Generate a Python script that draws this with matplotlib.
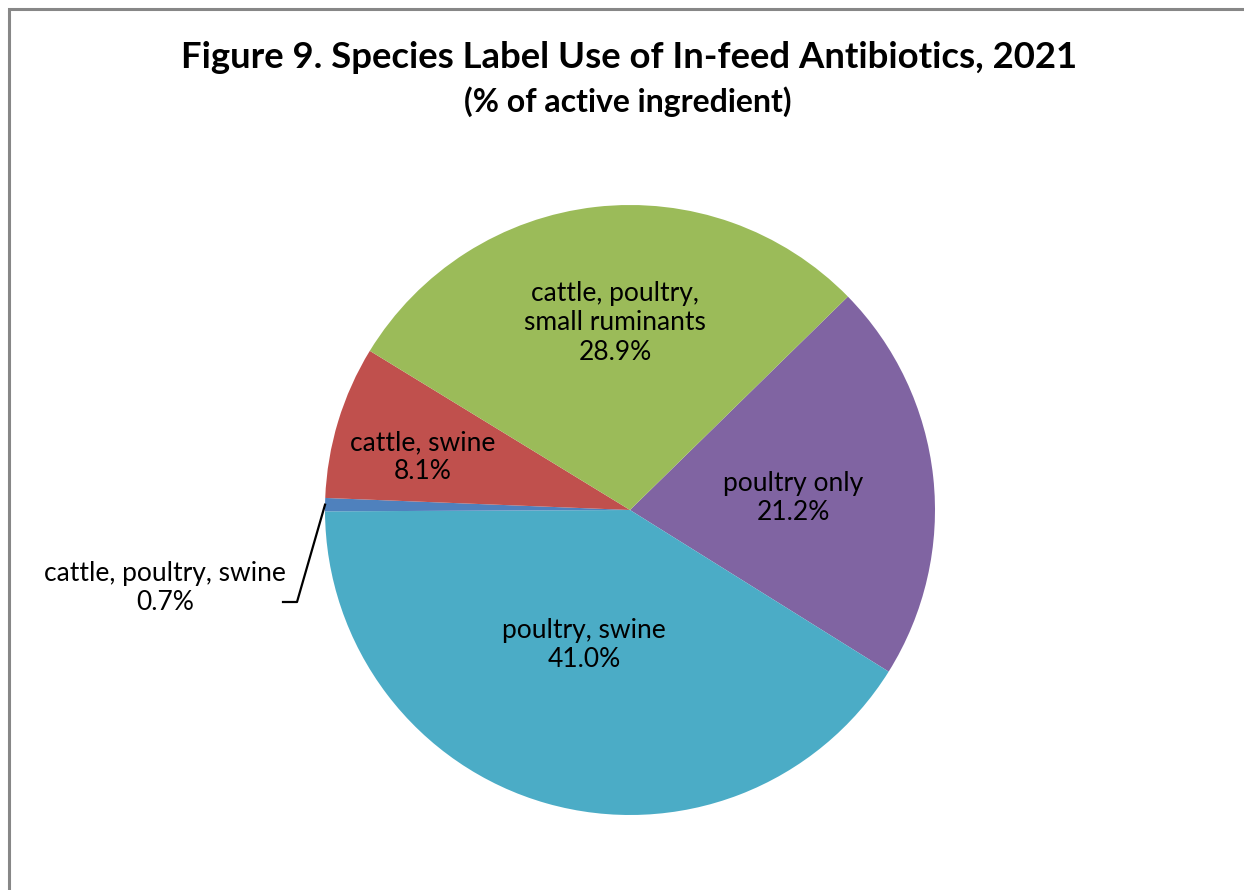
import numpy as np
import matplotlib.pyplot as plt
from matplotlib.patches import Rectangle

plt.rcParams["font.family"] = ["Lato", "DejaVu Sans"]

# slices listed clockwise, starting from the upper-right boundary
labels = ["poultry only", "poultry, swine", "cattle, poultry, swine",
          "cattle, swine", "cattle, poultry,\nsmall ruminants"]
shares = [21.2, 41.0, 0.7, 8.1, 28.9]
colors = ["#8064A2", "#4BACC6", "#4F81BD", "#C0504D", "#9BBB59"]

W, H = 1244, 890
fig = plt.figure(figsize=(W / 100, H / 100), dpi=100)

# grey chart-area frame (open to the right and bottom, as cropped)
fig.patches.append(Rectangle((8.5 / W, -0.1), 1.2, 1.1 - 9 / H,
                             transform=fig.transFigure, fill=False,
                             edgecolor="#878787", linewidth=2.2))

fig.text(629 / W, 1 - 58 / H,
         "Figure 9. Species Label Use of In-feed Antibiotics, 2021",
         ha="center", va="center", fontsize=26.3, fontweight="bold")
fig.text(628 / W, 1 - 102 / H, "(% of active ingredient)",
         ha="center", va="center", fontsize=23, fontweight="bold")

cx, cy, r = 630, 510, 305
ax = fig.add_axes([(cx - r) / W, 1 - (cy + r) / H, 2 * r / W, 2 * r / H])
wedges, _ = ax.pie(shares, colors=colors, startangle=44.4, counterclock=False,
                   radius=1, wedgeprops=dict(linewidth=0))
ax.set_xlim(-1, 1)
ax.set_ylim(-1, 1)
ax.set_aspect("equal")
ax.axis("off")


def px(x, y):
    return (x - cx) / r, (cy - y) / r


# label centres (pixel positions)
label_pos = [(793, 498), (584, 645), (165, 588), (423, 457), (615, 323)]
for lab, val, (x, y) in zip(labels, shares, label_pos):
    tx, ty = px(x, y)
    ax.text(tx, ty, f"{lab}\n{val:.1f}%", ha="center", va="center",
            fontsize=19, linespacing=1.2, clip_on=False)

# leader line for the tiny slice
w = wedges[2]
mid = np.deg2rad((w.theta1 + w.theta2) / 2)
p1 = px(297, 602)
p2 = px(283, 602)
ax.plot([np.cos(mid), p1[0], p2[0]], [np.sin(mid), p1[1], p2[1]],
        color="black", linewidth=1.6, clip_on=False)

fig.savefig("out.png", dpi=100)
